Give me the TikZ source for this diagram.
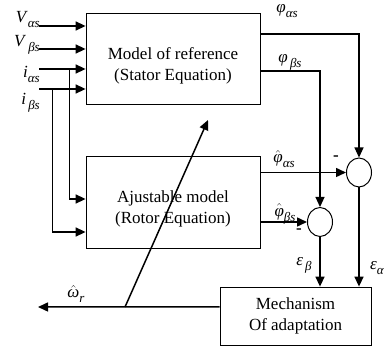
\documentclass[tikz,border=0pt]{standalone}
\usepackage{fontspec}
\setmainfont{Liberation Serif}
\usetikzlibrary{arrows.meta,shapes.geometric}

% italic symbol with a lowered subscript
\newcommand{\symsub}[2]{\textit{#1}\raisebox{-5bp}{\fontsize{13bp}{13bp}\selectfont\textit{#2}}}
\newcommand{\hatsym}[1]{$\hat{\mbox{\textit{#1}}}$}
% two lines of block text, set a little below the middle
\newcommand{\lowtext}[2]{\raisebox{-7bp}[\height][\depth]{\begin{tabular}{@{}c@{}}#1\\#2\end{tabular}}}

\begin{document}
\begin{tikzpicture}[font=\fontsize{17bp}{21bp}\selectfont,
						block/.style={draw,line width=0.8bp,minimum width=174bp,align=center},
						sumnode/.style={draw,ellipse,line width=1bp,
						minimum width=25bp,minimum height=29bp,inner sep=0pt},
						sig/.style={line width=1.5bp,-{Triangle[length=10bp,width=9bp]}},
						wire/.style={line width=0.8bp},
						lbl/.style={inner sep=0pt},
						minus/.style={inner sep=0pt,font=\fontsize{17bp}{17bp}\selectfont\bfseries}]

		\useasboundingbox (0bp,0bp) rectangle (385bp,351bp);

		\node[block,minimum height=91bp] (ref) at (173bp,292.5bp) {\lowtext{Model of reference}{(Stator Equation)}};
		\node[block,minimum height=92bp] (adj) at (173bp,149bp) {\lowtext{Ajustable model}{(Rotor Equation)}};
		\node[block,minimum width=151bp,minimum height=58bp] (mech) at (295.5bp,35bp) {Mechanism\\Of adaptation};
		\node[sumnode] (sum1) at (359bp,178.5bp) {};
		\node[sumnode] (sum2) at (320bp,129bp) {};

		\coordinate (va) at (39bp,325bp);
		\coordinate (vb) at (39bp,302bp);
		\coordinate (ia) at (39bp,282bp);
		\coordinate (ib) at (39bp,262bp);
		\coordinate (ja) at (69bp,282bp);
		\coordinate (ka) at (69bp,152bp);
		\coordinate (jb) at (52bp,262bp);
		\coordinate (kb) at (52bp,119bp);
		\coordinate (wout) at (38bp,44bp);
		\coordinate (wtap) at (125bp,44bp);
		\coordinate (wtip) at (208bp,231bp);

		\node[lbl,anchor=east] (lva) at (40bp,331bp) {\symsub{V}{αs}};
		\node[lbl,anchor=east] (lvb) at (40bp,306bp) {\symsub{V}{\,βs}};
		\node[lbl,anchor=east] (lia) at (40bp,277bp) {\symsub{i}{αs}};
		\node[lbl,anchor=east] (lib) at (40bp,248bp) {\symsub{i}{\,βs}};
		\node[lbl] (lpa) at (287bp,340bp) {\symsub{φ}{αs}};
		\node[lbl] (lpb) at (290bp,289bp) {\symsub{φ}{\,βs}};
		\node[lbl] (lha) at (284bp,192bp) {\hatsym{φ}\raisebox{-5bp}{\fontsize{13bp}{13bp}\selectfont\textit{αs}}};
		\node[lbl] (lhb) at (285bp,137bp) {\hatsym{φ}\raisebox{-5bp}{\fontsize{13bp}{13bp}\selectfont\textit{βs}}};
		\node[lbl] (leb) at (304bp,86bp) {\symsub{ε}{\,β}};
		\node[lbl,anchor=west] (lea) at (370bp,83bp) {\symsub{ε}{α}};
		\node[lbl] (lw) at (76bp,57bp) {\hatsym{ω}\raisebox{-5bp}{\fontsize{13bp}{13bp}\selectfont\textit{r}}};
		\node[minus] (m1) at (336bp,193bp) {-};
		\node[minus] (m2) at (299bp,120bp) {-};

		\draw[sig] (va) -- (va -| ref.west);
		\draw[sig] (vb) -- (vb -| ref.west);
		\draw[sig] (ia) -- (ia -| ref.west);
		\draw[sig] (ib) -- (ib -| ref.west);
		\draw[wire] (ja) -- (ka);
		\draw[wire] (jb) -- (kb);
		\draw[sig] (ka) -- (ka -| adj.west);
		\draw[sig] (kb) -- (kb -| adj.west);

		\draw[sig,line width=1.1bp] ([yshift=24.5bp]ref.east) -| (sum1.north);
		\draw[sig,line width=1.1bp] ([yshift=-12.5bp]ref.east) -| (sum2.north);
		\draw[sig] (adj.east |- sum1.west) -- (sum1.west);
		\draw[sig] (adj.east |- sum2.west) -- (sum2.west);
		\draw[sig] (sum2.south) -- (sum2.south |- mech.north);
		\draw[sig] (sum1.south) -- (sum1.south |- mech.north);

		\draw[sig] ([yshift=9bp]mech.west) -- (wout);
		\draw[sig] (wtap) -- (wtip);

	\end{tikzpicture}
\end{document}
